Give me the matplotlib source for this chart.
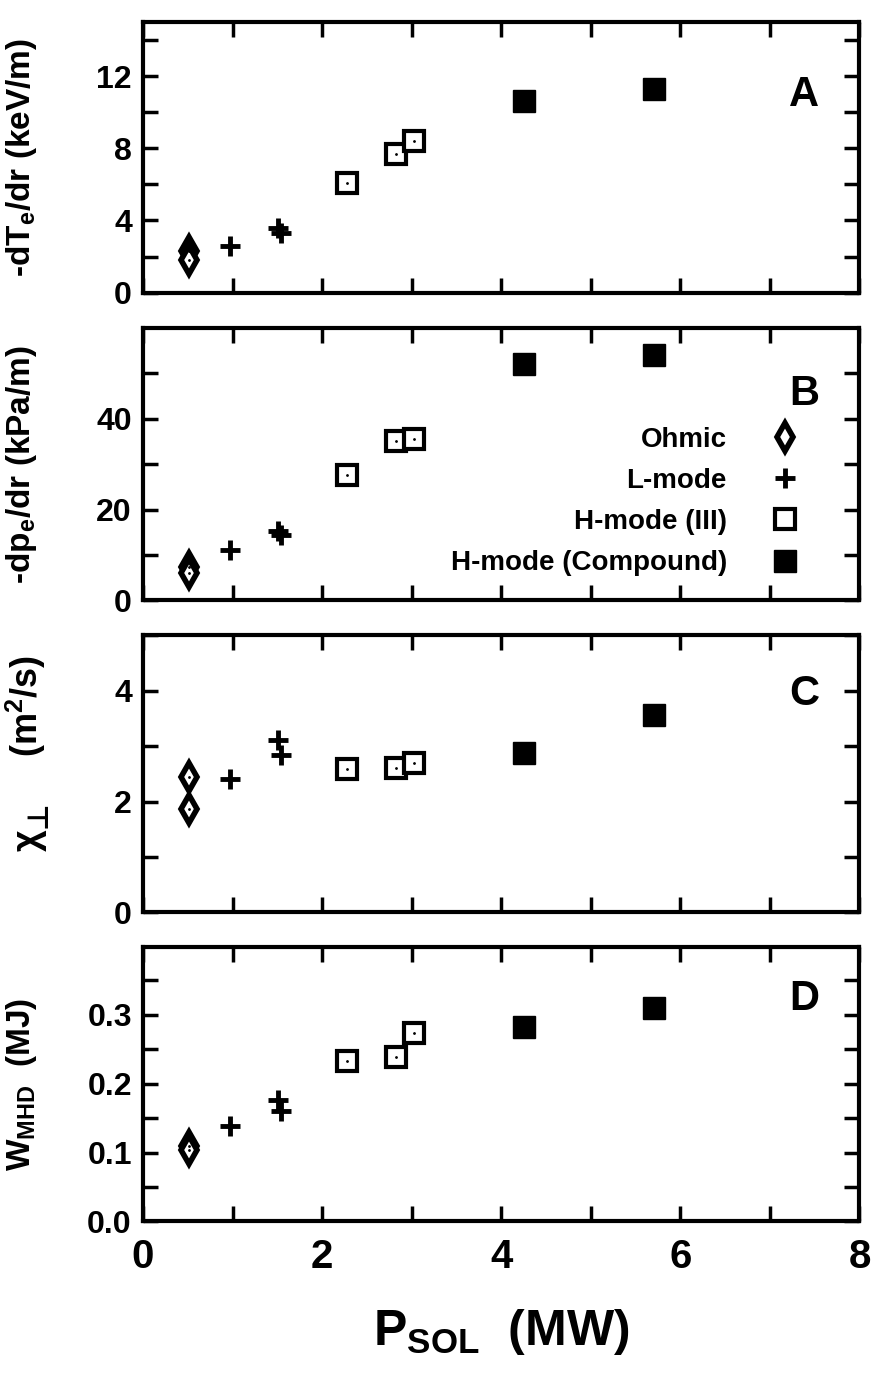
import matplotlib
matplotlib.use("Agg")
import matplotlib.pyplot as plt
from matplotlib.ticker import MultipleLocator, FuncFormatter
from matplotlib.lines import Line2D
from matplotlib.transforms import offset_copy

plt.rcParams['font.family'] = ['Liberation Sans', 'DejaVu Sans']
plt.rcParams['font.weight'] = 'bold'
plt.rcParams['mathtext.fontset'] = 'custom'
plt.rcParams['mathtext.rm'] = 'Liberation Sans:bold'
plt.rcParams['mathtext.it'] = 'Liberation Sans:bold'
plt.rcParams['mathtext.bf'] = 'Liberation Sans:bold'

# P_SOL (MW) for each group
p_ohmic = [0.51, 0.51]
p_lmode = [0.97, 1.51, 1.54]
p_h3 = [2.28, 2.82, 3.03]
p_hc = [4.26, 5.71]

# A: -dTe/dr (keV/m)
dte_ohmic = [2.3, 1.8]
dte_lmode = [2.6, 3.6, 3.3]
dte_h3 = [6.1, 7.7, 8.4]
dte_hc = [10.6, 11.3]

# B: -dpe/dr (kPa/m)
dpe_ohmic = [7.3, 6.0]
dpe_lmode = [11.0, 15.2, 14.5]
dpe_h3 = [27.6, 35.2, 35.5]
dpe_hc = [52.1, 54.0]

# C: chi_perp (m^2/s)
chi_ohmic = [2.44, 1.86]
chi_lmode = [2.41, 3.11, 2.84]
chi_h3 = [2.58, 2.61, 2.69]
chi_hc = [2.87, 3.57]

# D: W_MHD (MJ)
w_ohmic = [0.110, 0.104]
w_lmode = [0.139, 0.176, 0.161]
w_h3 = [0.233, 0.239, 0.273]
w_hc = [0.283, 0.310]

labels = ["Ohmic", "L-mode", "H-mode (III)", "H-mode (Compound)"]

panels = [
    (dte_ohmic, dte_lmode, dte_h3, dte_hc, "-dT$_e$/dr (keV/m)", (0, 15), 4, 2, "A", 0.73),
    (dpe_ohmic, dpe_lmode, dpe_h3, dpe_hc, "-dp$_e$/dr (kPa/m)", (0, 59.9), 20, 10, "B", 0.76),
    (chi_ohmic, chi_lmode, chi_h3, chi_hc, None, (0, 5.0), 2, 1, "C", 0.79),
    (w_ohmic, w_lmode, w_h3, w_hc, "W$_{MHD}$  (MJ)", (0, 0.399), 0.1, 0.05, "D", 0.81),
]

# axes rectangles [left, bottom, width, height] in figure fraction
rects = [
    [0.163, 0.787, 0.817, 0.197],
    [0.163, 0.563, 0.817, 0.198],
    [0.163, 0.336, 0.817, 0.2016],
    [0.163, 0.111, 0.817, 0.200],
]

fig = plt.figure(figsize=(8.77, 13.74), dpi=100)
renderer = fig.canvas.get_renderer()

ohm_kw = dict(marker='d', ms=14, mfc='white', mec='black', mew=4, ls='none')
l_kw = dict(marker='+', ms=15, mec='black', mew=3.5, ls='none')
h3_kw = dict(marker='s', ms=14, mfc='white', mec='black', mew=3, ls='none')
hc_kw = dict(marker='s', ms=16, mfc='black', mec='black', mew=1, ls='none')

for i, (yo, yl, yh, yc, ylab, ylim, major, minor, letter, ly) in enumerate(panels):
    ax = fig.add_axes(rects[i])
    ax.plot(p_ohmic, yo, **ohm_kw)
    ax.plot(p_lmode, yl, **l_kw)
    ax.plot(p_h3, yh, **h3_kw)
    ax.plot(p_hc, yc, **hc_kw)
    # small centre dots of the open symbols
    ax.plot(p_ohmic, yo, 'k.', ms=2)
    ax.plot(p_h3, yh, 'k.', ms=2)

    ax.set_xlim(0, 8)
    ax.set_ylim(*ylim)
    ax.xaxis.set_major_locator(MultipleLocator(1))
    ax.yaxis.set_major_locator(MultipleLocator(major))
    ax.yaxis.set_minor_locator(MultipleLocator(minor))
    if i == 3:
        ax.xaxis.set_major_formatter(FuncFormatter(lambda v, p: f"{v:g}" if v % 2 == 0 else ""))
        ax.yaxis.set_major_formatter(FuncFormatter(lambda v, p: f"{v:.1f}"))
    else:
        ax.set_xticklabels([])
    ax.tick_params(which='both', direction='in', top=True, right=True,
                   length=11, width=2.5)
    ax.tick_params(axis='y', labelsize=23, pad=8)
    ax.tick_params(axis='x', labelsize=29, pad=12)
    for s in ax.spines.values():
        s.set_linewidth(3)

    if ylab is not None:
        ax.set_ylabel(ylab, fontsize=24, fontweight='bold')
        ax.yaxis.set_label_coords(-0.145, 0.5)
    else:
        # chi_perp label built from pieces: the perp sign needs DejaVu Sans
        x0, y0 = -0.146, 0.22
        rot = dict(rotation=90, rotation_mode='anchor', ha='left', va='baseline',
                   fontweight='bold', clip_on=False)
        t1 = ax.text(x0, y0, "χ", transform=ax.transAxes, fontsize=27, **rot)
        h1 = t1.get_window_extent(renderer).height
        ax.text(x0, y0, "⊥", family='DejaVu Sans', fontsize=21,
                transform=offset_copy(ax.transAxes, fig=fig, x=8, y=h1 + 2, units='dots'), **rot)
        ax.text(x0, 0.56, "(m$^2$/s)", transform=ax.transAxes, fontsize=26, **rot)

    ax.text(0.923, ly, letter, transform=ax.transAxes, fontsize=30,
            fontweight='bold', ha='center', va='center')

    if i == 1:
        handles = [Line2D([], [], **ohm_kw), Line2D([], [], **l_kw),
                   Line2D([], [], **h3_kw), Line2D([], [], **hc_kw)]
        ax.legend(handles, labels, loc='upper right', bbox_to_anchor=(0.935, 0.69),
                  frameon=False, markerfirst=False, fontsize=20, handlelength=1.0,
                  handletextpad=1.6, labelspacing=0.55, borderpad=0)

    if i == 3:
        ax.set_xlabel("P$_{SOL}$  (MW)", fontsize=36, fontweight='bold', labelpad=22)

fig.savefig("out.png", dpi=100)
